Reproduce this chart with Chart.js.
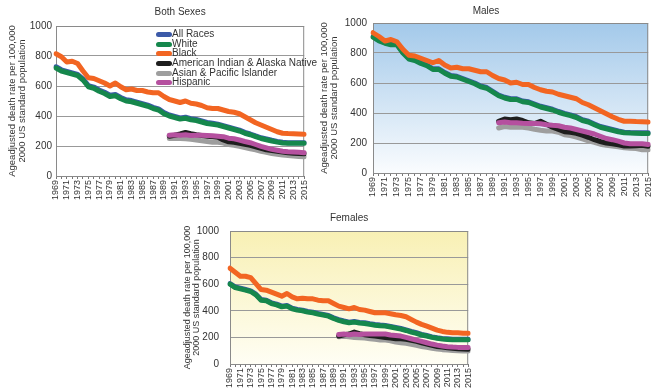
<!DOCTYPE html>
<html>
<head>
<meta charset="utf-8">
<script src="https://cdn.jsdelivr.net/npm/chart.js@4"></script>
<style>
  body { margin: 0; background: #fff; font-family: Arial, "Liberation Sans", sans-serif; }
  #wrap { position: relative; width: 660px; height: 391px; overflow: hidden; }
  .panel { position: absolute; }
  #legend { position: absolute; left: 156px; top: 29px; font-size: 10px; color: #333; }
  #legend div { height: 9.7px; line-height: 10px; white-space: nowrap; position: relative; padding-left: 16px; }
  #legend span.sw { position: absolute; left: 0; top: 3px; width: 16px; height: 5px; border-radius: 3px; }
</style>
</head>
<body>
<div id="wrap">
  <div class="panel" style="left:0;top:0;width:316px;height:205px"><canvas id="both"></canvas></div>
  <div class="panel" style="left:317px;top:0;width:343px;height:205px"><canvas id="males"></canvas></div>
  <div class="panel" style="left:170px;top:200px;width:310px;height:191px"><canvas id="females"></canvas></div>
  <div id="legend"></div>
</div>
<script>
const years = [];
for (let y = 1969; y <= 2015; y++) years.push(String(y));

const seriesNames = ['All Races', 'White', 'Black', 'American Indian & Alaska Native', 'Asian & Pacific Islander', 'Hispanic'];
const seriesColors = ['#3c5aa8', '#15874c', '#f26522', '#1e1e1e', '#9e9e9e', '#b5509f'];

// 1969-1989 have no data for the smaller groups
const noData = [null, null, null, null, null, null, null, null, null, null, null, null, null, null, null, null, null, null, null, null, null];

// Both sexes
const bothAll = [728, 708, 698, 688, 678, 648, 603, 593, 573, 558, 538, 543, 523, 508, 503, 493, 483, 473, 458, 448, 423, 407, 397, 387, 392, 382, 377, 367, 357, 352, 346, 336, 326, 316, 306, 291, 280, 267, 255, 247, 238, 231, 225, 222, 222, 222, 222];
const bothWhite = [720, 700, 690, 680, 670, 640, 595, 585, 565, 550, 530, 535, 515, 500, 495, 485, 475, 465, 450, 440, 415, 400, 390, 380, 385, 375, 370, 360, 350, 345, 340, 330, 320, 310, 300, 285, 275, 262, 250, 242, 233, 226, 220, 218, 218, 218, 218];
const bothBlack = [815, 795, 760, 765, 750, 700, 655, 650, 635, 620, 600, 620, 595, 575, 580, 570, 570, 560, 555, 555, 530, 510, 500, 490, 500, 485, 480, 470, 455, 450, 450, 440, 430, 425, 415, 395, 375, 355, 340, 325, 310, 295, 285, 283, 282, 280, 278];
const bothAian = noData.concat([265, 272, 280, 290, 282, 275, 270, 265, 262, 258, 240, 228, 225, 218, 212, 205, 195, 185, 175, 170, 165, 160, 155, 152, 150, 148]);
const bothAsian = noData.concat([250, 252, 250, 248, 245, 240, 235, 230, 225, 225, 220, 210, 205, 198, 190, 182, 175, 165, 158, 150, 145, 140, 137, 133, 130, 128]);
const bothHisp = noData.concat([272, 275, 272, 275, 270, 272, 272, 270, 268, 265, 262, 252, 248, 240, 230, 222, 210, 198, 188, 178, 172, 165, 162, 160, 158, 155]);

// Males
const maleAll = [910, 885, 870, 860, 860, 805, 765, 755, 735, 720, 695, 695, 670, 650, 645, 630, 615, 600, 580, 570, 545, 520, 505, 495, 495, 480, 475, 460, 445, 435, 425, 410, 397, 387, 375, 355, 345, 327, 310, 300, 290, 280, 272, 270, 269, 268, 268];
const maleWhite = [905, 880, 865, 855, 855, 800, 760, 750, 730, 715, 690, 690, 665, 645, 640, 625, 610, 595, 575, 565, 540, 515, 500, 490, 490, 475, 470, 455, 440, 430, 420, 405, 392, 382, 370, 350, 340, 322, 305, 295, 285, 275, 268, 266, 265, 264, 264];
const maleBlack = [935, 910, 880, 890, 875, 825, 785, 780, 765, 750, 735, 750, 720, 700, 705, 695, 695, 685, 675, 675, 650, 630, 620, 600, 605, 590, 590, 570, 555, 545, 540, 525, 515, 505, 495, 470, 455, 435, 415, 395, 375, 358, 345, 345, 343, 342, 340];
const maleAian = noData.concat([345, 360, 355, 360, 350, 335, 330, 345, 325, 305, 290, 275, 272, 265, 252, 238, 222, 210, 200, 195, 188, 180, 180, 182, 185, 178]);
const maleAsian = noData.concat([300, 310, 305, 305, 305, 300, 292, 285, 280, 280, 272, 255, 250, 240, 228, 215, 205, 192, 185, 180, 175, 168, 165, 163, 155, 155]);
const maleHisp = noData.concat([335, 340, 335, 335, 332, 330, 330, 328, 322, 318, 315, 305, 300, 290, 280, 270, 260, 245, 230, 222, 212, 200, 195, 195, 195, 190]);

// Females
const femAll = [605, 580, 570, 560, 550, 525, 485, 480, 460, 450, 435, 440, 420, 410, 405, 395, 390, 380, 373, 365, 347, 333, 323, 315, 320, 313, 310, 303, 297, 293, 290, 283, 275, 267, 257, 245, 235, 223, 214, 204, 197, 192, 189, 186, 186, 186, 186];
const femWhite = [600, 575, 565, 555, 545, 520, 480, 475, 455, 445, 430, 435, 415, 405, 400, 390, 385, 375, 368, 360, 342, 328, 318, 310, 315, 308, 305, 298, 292, 288, 285, 278, 270, 262, 252, 240, 230, 218, 210, 200, 193, 188, 185, 182, 182, 182, 182];
const femBlack = [720, 690, 660, 660, 650, 605, 560, 555, 540, 525, 510, 530, 505, 490, 495, 490, 490, 480, 475, 475, 455, 435, 425, 415, 425, 410, 405, 395, 385, 385, 385, 378, 370, 365, 355, 335, 315, 298, 285, 270, 255, 245, 238, 235, 235, 232, 232];
const femAian = noData.concat([210, 220, 225, 240, 228, 220, 215, 210, 205, 200, 195, 190, 190, 185, 178, 170, 160, 150, 140, 132, 128, 122, 118, 115, 112, 110]);
const femAsian = noData.concat([205, 208, 205, 200, 198, 195, 190, 185, 180, 180, 175, 165, 160, 155, 148, 140, 132, 125, 118, 112, 108, 105, 102, 100, 98, 97]);
const femHisp = noData.concat([222, 225, 220, 225, 222, 225, 225, 225, 225, 225, 218, 215, 210, 200, 190, 180, 170, 160, 150, 142, 135, 130, 127, 125, 125, 125]);

const yTicks = [0, 200, 400, 600, 800, 1000];
const yTitle = ['Ageadjusted death rate per 100,000', '2000 US standard population'];
const FONT = 'Arial, "Liberation Sans", sans-serif';

// draw order: first entry ends up on top
const drawOrder = [5, 4, 3, 1, 2, 0];

function makeDatasets(list) {
    return list.map((data, i) => ({
        label: seriesNames[i],
        data: data,
        borderColor: seriesColors[i],
        backgroundColor: seriesColors[i],
        borderWidth: 5,
        borderCapStyle: 'round',
        borderJoinStyle: 'round',
        pointRadius: 0,
        tension: 0,
        fill: false,
        order: drawOrder[i]
    }));
}

const framePlugin = {
    id: 'frame',
    beforeDraw(chart, args, opts) {
        const a = chart.chartArea;
        const ctx = chart.ctx;
        if (opts.top) {
            const g = ctx.createLinearGradient(0, a.top, 0, a.bottom);
            g.addColorStop(0, opts.top);
            g.addColorStop(1, opts.bottom);
            ctx.save();
            ctx.fillStyle = g;
            ctx.fillRect(a.left, a.top, a.right - a.left, a.bottom - a.top);
            ctx.restore();
        }
    },
    beforeDatasetsDraw(chart) {
        const a = chart.chartArea;
        const ctx = chart.ctx;
        ctx.save();
        ctx.strokeStyle = '#8a8a8a';
        ctx.lineWidth = 1;
        ctx.strokeRect(a.left + 0.5, a.top + 0.5, a.right - a.left - 1, a.bottom - a.top);
        ctx.restore();
    }
};

function makeChart(id, title, list, cfg) {
    new Chart(document.getElementById(id), {
        type: 'line',
        data: { labels: years, datasets: makeDatasets(list) },
        options: {
            responsive: true,
            maintainAspectRatio: false,
            animation: false,
            layout: { padding: { left: 0, right: cfg.right, top: 0, bottom: 0 } },
            plugins: {
                legend: { display: false },
                tooltip: { enabled: false },
                title: {
                    display: true,
                    text: title,
                    color: '#333',
                    fullSize: cfg.fullSize,
                    font: { family: FONT, size: 10, weight: 'normal', lineHeight: 1.2 },
                    padding: { top: cfg.titleTop, bottom: cfg.titleBottom }
                },
                frame: { top: cfg.bgTop, bottom: cfg.bgBottom }
            },
            scales: {
                x: {
                    offset: false,
                    afterFit: s => { s.height = cfg.xHeight; },
                    grid: { drawOnChartArea: false, tickLength: 3, color: '#777', tickColor: '#777' },
                    border: { color: '#777' },
                    ticks: {
                        autoSkip: false,
                        minRotation: 90,
                        maxRotation: 90,
                        padding: 1,
                        color: '#333',
                        font: { family: FONT, size: 9 },
                        callback: (v, i) => (i % 2 === 0 ? years[i] : '')
                    }
                },
                y: {
                    min: 0,
                    max: 1000,
                    afterFit: s => { s.width = cfg.yWidth; },
                    afterBuildTicks: s => { s.ticks = yTicks.map(v => ({ value: v })); },
                    grid: { drawTicks: false, color: '#999' },
                    border: { color: '#777' },
                    ticks: {
                        padding: cfg.tickPad,
                        color: '#333',
                        font: { family: FONT, size: 10 },
                        callback: v => String(v)
                    },
                    title: {
                        display: true,
                        text: yTitle,
                        color: '#333',
                        font: { family: FONT, size: cfg.ySize, lineHeight: 1.0 },
                        padding: { top: cfg.yTitleTop, bottom: 0 }
                    }
                }
            }
        },
        plugins: [framePlugin]
    });
}

makeChart('both', 'Both Sexes',
    [bothAll, bothWhite, bothBlack, bothAian, bothAsian, bothHisp],
    { right: 10, titleTop: 6, titleBottom: 8, fullSize: false, xHeight: 29, yWidth: 56, tickPad: 4, yTitleTop: 8, ySize: 9.5, bgTop: null });

makeChart('males', 'Males',
    [maleAll, maleWhite, maleBlack, maleAian, maleAsian, maleHisp],
    { right: 5, titleTop: 5, titleBottom: 6, fullSize: true, xHeight: 32, yWidth: 56, tickPad: 6, yTitleTop: 3, ySize: 9.5, bgTop: '#a3c9ea', bgBottom: '#fafcfe' });

makeChart('females', 'Females',
    [femAll, femWhite, femBlack, femAian, femAsian, femHisp],
    { right: 7, titleTop: 12, titleBottom: 7, fullSize: false, xHeight: 27, yWidth: 60, tickPad: 11, yTitleTop: 13, ySize: 9, bgTop: '#f8f0b4', bgBottom: '#fffef4' });

const legend = document.getElementById('legend');
seriesNames.forEach((name, i) => {
    const row = document.createElement('div');
    row.innerHTML = `<span class="sw" style="background:${seriesColors[i]}"></span>${name}`;
    legend.appendChild(row);
});
</script>
</body>
</html>
